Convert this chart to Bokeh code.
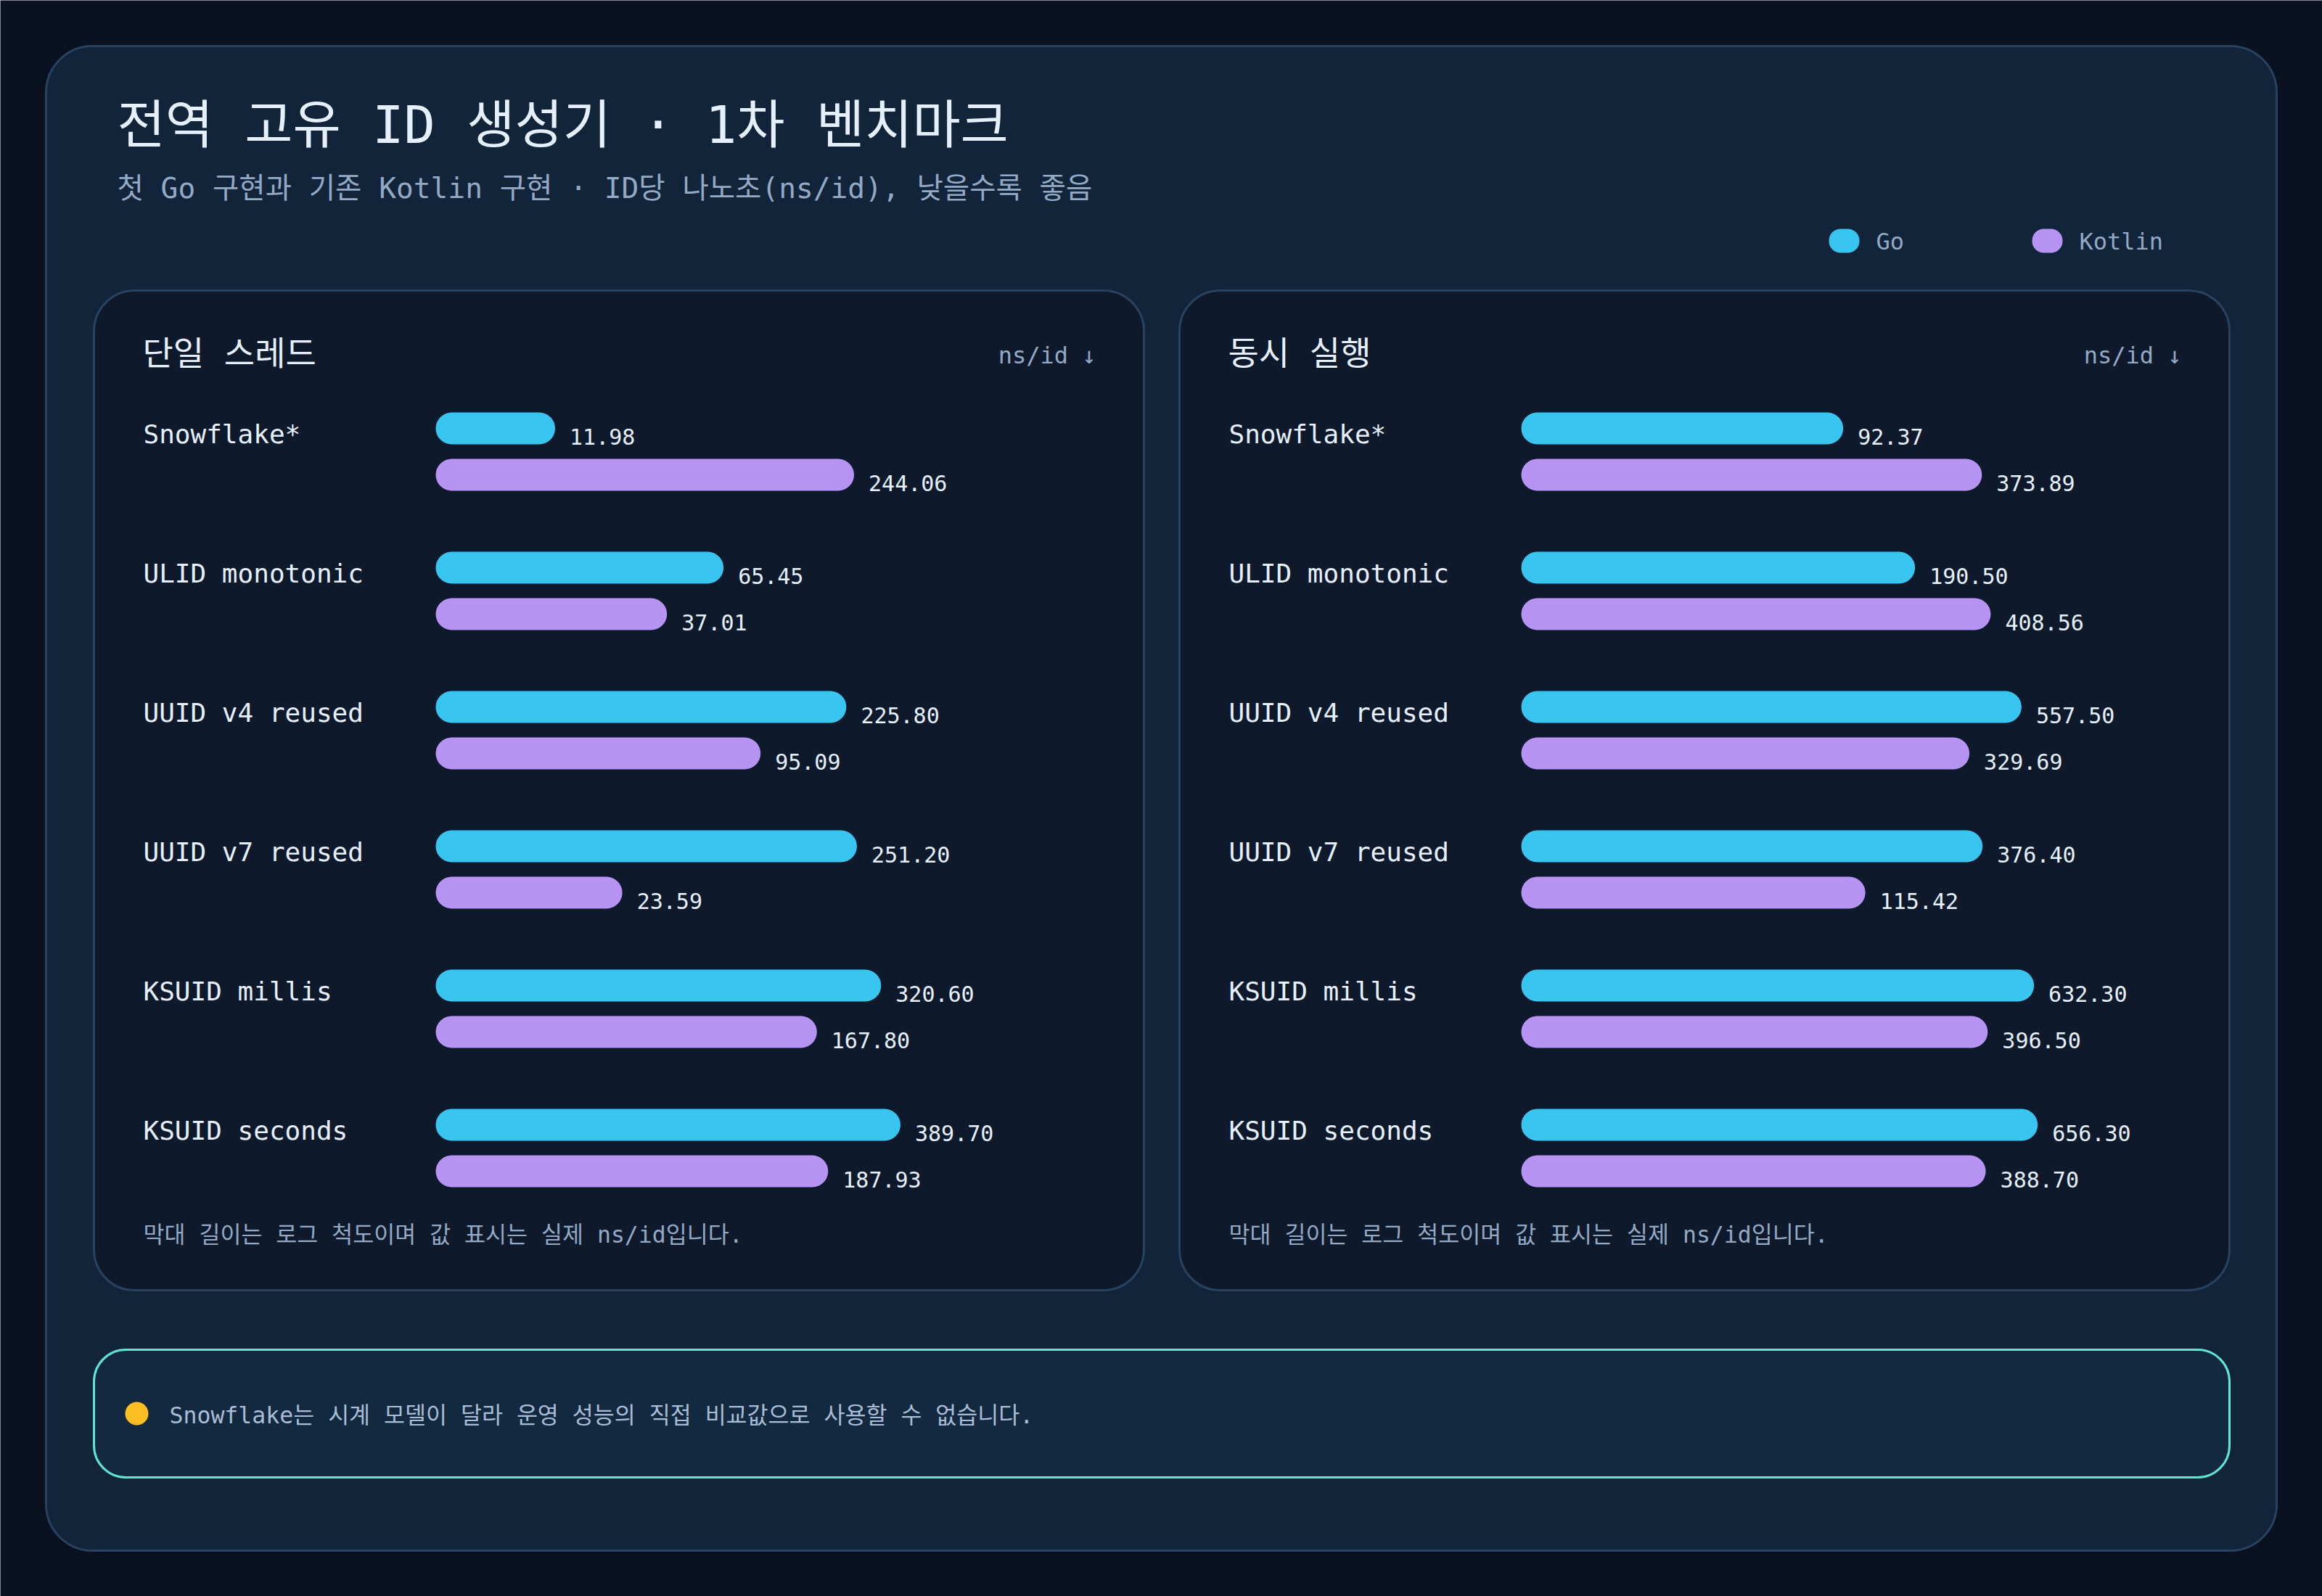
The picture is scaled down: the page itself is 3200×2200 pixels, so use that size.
# plot.py
#
# Basic usage:
#	python3 plot.py
#
# Writes out.html: ID generator benchmark, Go vs Kotlin, ns/id on a log bar scale

# ========
# SETTINGS
# ========

# Libraries
import numpy as np
from bokeh import plotting
from bokeh import models
from bokeh.core.properties import value
from bokeh.transform import dodge
from bokeh.embed import file_html
from bokeh.resources import INLINE

# ====
# DATA
# ====

# Generators, top to bottom
generators = ['Snowflake*', 'ULID monotonic', 'UUID v4 reused', 'UUID v7 reused', 'KSUID millis', 'KSUID seconds']

# Single thread (ns/id)
single_go = [11.98, 65.45, 225.80, 251.20, 320.60, 389.70]
single_kotlin = [244.06, 37.01, 95.09, 23.59, 167.80, 187.93]

# Concurrent (ns/id)
concurrent_go = [92.37, 190.50, 557.50, 376.40, 632.30, 656.30]
concurrent_kotlin = [373.89, 408.56, 329.69, 115.42, 396.50, 388.70]

# Series
series = ['Go', 'Kotlin']

# Texts
title = '전역 고유 ID 생성기 · 1차 벤치마크'
subtitle = '첫 Go 구현과 기존 Kotlin 구현 · ID당 나노초(ns/id), 낮을수록 좋음'
panel_titles = ['단일 스레드', '동시 실행']
unit_label = 'ns/id ↓'
footnote = '막대 길이는 로그 척도이며 값 표시는 실제 ns/id입니다.'
note = 'Snowflake는 시계 모델이 달라 운영 성능의 직접 비교값으로 사용할 수 없습니다.'

# ======
# STYLES
# ======

# Page (Bokeh's page template has no body margin)
W = 3200
H = 2200

# Colours
BG = '#0a1120'
CARD = '#11243a'
PANEL = '#0e1a2c'
NOTEBOX = '#132940'
EDGE = '#28425f'
TEAL = '#5ee6d2'
AMBER = '#fbbf24'
COLORS = ['#38c6f0', '#b794f4']
WHITE = '#e6f0fc'
MUTED = '#93a9c4'

# Font stack
MONO = 'DejaVu Sans Mono, Noto Sans CJK KR'

# Log scale: bars start at 0.3 x the smallest value, 314.7 px per decade
origin = min(single_go + single_kotlin + concurrent_go + concurrent_kotlin) * 0.3
PX_DECADE = 314.7

# Rows: first row centre and spacing, in page px
ROW0 = 622
ROW_STEP = 192
DODGE = 1 / 6
BAR_H = 44 / ROW_STEP

# Alphabetic text lands low with the CJK fallback; lift it by a part of the size
LIFT = 0.34

# ====
# MAIN
# ====

def main():
	'''main'''

	# Page-sized canvas, data units = page px (y down)
	p = plotting.figure(
		width=W, height=H,
		x_range=models.Range1d(0, W),
		y_range=models.Range1d(H, 0),
		output_backend='svg',
		toolbar_location=None,
		x_axis_location=None,
		y_axis_location=None,
		min_border=0,
		title=None
		)
	p.background_fill_color = BG
	p.border_fill_color = BG
	p.outline_line_color = None
	p.grid.visible = False

	# Row range: row i sits at -i so the first generator is on top
	p.extra_y_ranges = {'rows': models.Range1d(-(H - ROW0) / ROW_STEP, ROW0 / ROW_STEP)}

	# Outer card
	p.quad(left=63, right=3137, top=63, bottom=2137, fill_color=CARD, line_color=EDGE, line_width=3, border_radius=64)

	# Header
	header(p)

	# Panels
	panel(p, 'single', panel_titles[0], single_go, single_kotlin, 129)
	panel(p, 'concurrent', panel_titles[1], concurrent_go, concurrent_kotlin, 1625)

	# Note box
	notebox(p)

	# Save
	open('out.html', 'w').write(file_html(p, INLINE))

# ====
# TEXT
# ====

def label(p, x, y, text, size, color, align='left'):
	'''Single line of text, baseline at page y'''

	p.text(x=[x], y=[y - LIFT * size], text=[text], text_font=value(MONO), text_font_size='%gpx' % size,
		text_color=color, text_baseline='alphabetic', text_align=align)

# ======
# HEADER
# ======

def header(p):
	'''Title, subtitle and legend'''

	# Title and subtitle
	label(p, 161, 196, title, 72, WHITE)
	label(p, 161, 272, subtitle, 39.5, MUTED)

	# Legend pills and names
	lx = [2520, 2800]
	p.quad(left=lx, right=[x + 42 for x in lx], top=315, bottom=348, fill_color=COLORS,
		line_color=None, border_radius=16)
	for x, name in zip(lx, series):
		label(p, x + 65, 343, name, 32, MUTED)

# =====
# PANEL
# =====

def panel(p, name, panel_title, go_vals, kotlin_vals, left):
	'''One benchmark panel with paired log bars'''

	# Card
	p.quad(left=left, right=left + 1447, top=400, bottom=1778, fill_color=PANEL, line_color=EDGE, line_width=3, border_radius=56)

	# Titles
	label(p, left + 67, 502, panel_title, 46, WHITE)
	label(p, left + 1381, 500, unit_label, 32, MUTED, align='right')

	# Log x range spread over the whole frame so that origin lands at the bar start
	x0 = left + 471
	lo = np.log10(origin) - x0 / PX_DECADE
	p.extra_x_ranges[name] = models.Range1d(10 ** lo, 10 ** (lo + W / PX_DECADE))
	p.extra_x_scales[name] = models.LogScale()

	# Data table
	src = models.ColumnDataSource(dict(
		pos=[-i for i in range(len(generators))],
		generator=generators,
		go=go_vals,
		kotlin=kotlin_vals,
		go_txt=['%.2f' % v for v in go_vals],
		kotlin_txt=['%.2f' % v for v in kotlin_vals]
		))

	# Bars and value labels (baseline on the bar bottom)
	for col, off, color in [('go', DODGE, COLORS[0]), ('kotlin', -DODGE, COLORS[1])]:
		p.hbar(y=dodge('pos', off), left=origin, right=col, height=BAR_H, source=src,
			fill_color=color, line_color=None, border_radius=22,
			x_range_name=name, y_range_name='rows')
		p.text(x=col, y=dodge('pos', off - BAR_H / 2 + LIFT * 30 / ROW_STEP), text=col + '_txt', source=src,
			x_offset=20, text_font=value(MONO), text_font_size='30px', text_color=WHITE,
			text_baseline='alphabetic', x_range_name=name, y_range_name='rows')

	# Generator names
	p.text(x=left + 68, y=dodge('pos', DODGE - BAR_H / 2 + (2 + LIFT * 36) / ROW_STEP), text='generator', source=src,
		text_font=value(MONO), text_font_size='36px', text_color=WHITE,
		text_baseline='alphabetic', y_range_name='rows')

	# Footnote
	label(p, left + 68, 1712, footnote, 31.5, MUTED)

# ====
# NOTE
# ====

def notebox(p):
	'''Snowflake caveat'''

	p.quad(left=129, right=3072, top=1860, bottom=2036, fill_color=NOTEBOX, line_color=TEAL, line_width=3, border_radius=44)
	p.scatter(x=[188], y=[1948], size=32, marker='circle', fill_color=AMBER, line_color=None)
	label(p, 233, 1961, note, 31.5, '#aabdd6')

# ====
# CALL
# ====

# Call
main()

# Done
#
